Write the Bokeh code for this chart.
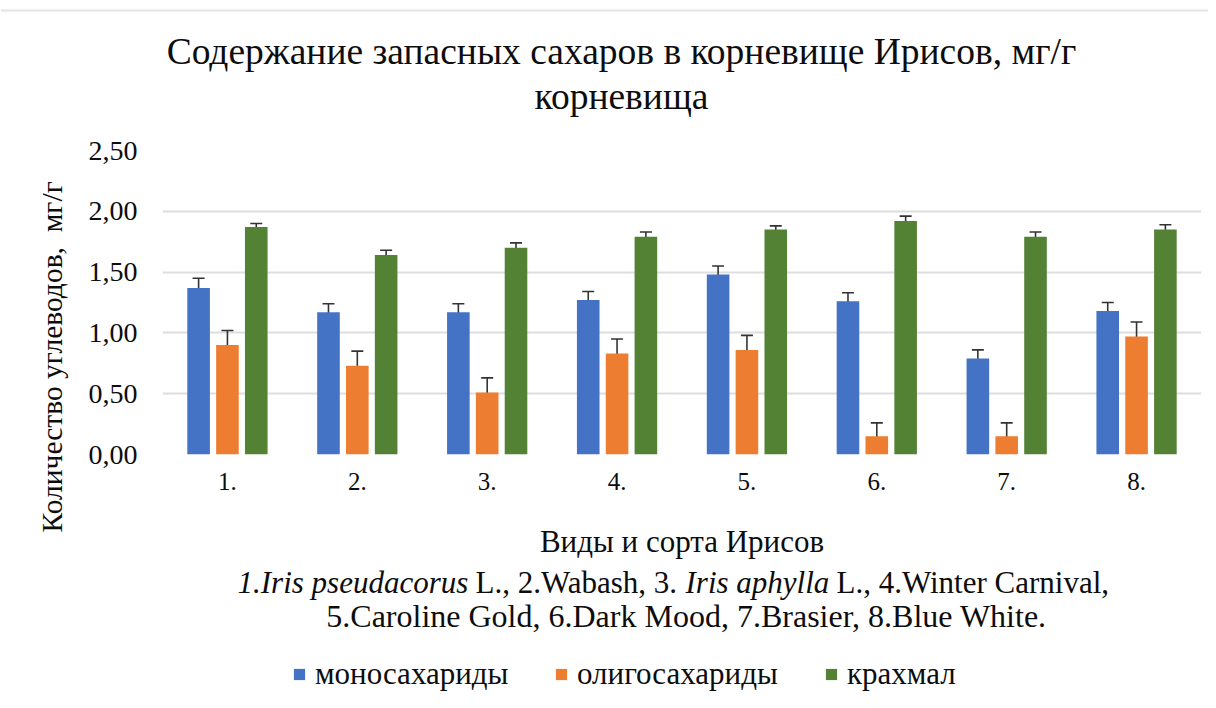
from bokeh.plotting import figure
from bokeh.layouts import column, row
from bokeh.models import (FactorRange, Range1d, FixedTicker, CustomJSTickFormatter,
                          ColumnDataSource, Whisker, TeeHead, Label, Legend, LegendItem,
                          Span, Title)
from bokeh.transform import dodge
from bokeh.embed import file_html
from bokeh.resources import INLINE

# ---- data ----
categories = ["1.", "2.", "3.", "4.", "5.", "6.", "7.", "8."]
series_names = ["моносахариды", "олигосахариды", "крахмал"]
mono = [1.37, 1.17, 1.17, 1.27, 1.48, 1.26, 0.79, 1.18]
oligo = [0.90, 0.73, 0.51, 0.83, 0.86, 0.15, 0.15, 0.97]
starch = [1.87, 1.64, 1.70, 1.79, 1.85, 1.92, 1.79, 1.85]
mono_err = [0.08, 0.07, 0.07, 0.07, 0.07, 0.07, 0.07, 0.07]
oligo_err = [0.12, 0.12, 0.12, 0.12, 0.12, 0.11, 0.11, 0.12]
starch_err = [0.03, 0.04, 0.04, 0.04, 0.03, 0.04, 0.04, 0.04]
y_ticks = [0.0, 0.5, 1.0, 1.5, 2.0, 2.5]

title_lines = ["Содержание запасных сахаров в корневище Ирисов, мг/г", "корневища"]
y_title = "Количество углеводов,\u00a0 мг/г"
x_title = "Виды и сорта Ирисов"
note_line1 = [("1.Iris pseudacorus", "italic"), ("L., 2.Wabash, 3.", "normal"),
              ("Iris aphylla", "italic"), ("L., 4.Winter Carnival,", "normal")]
note_line2 = "5.Caroline Gold, 6.Dark Mood, 7.Brasier, 8.Blue White."

colors = ["#4472C4", "#ED7D31", "#548235"]
FONT = "Liberation Serif"
TXT = "#0d0d0d"
EDGE = "#E4E4E4"

# ---- layout geometry (page px) ----
TOTAL_W = 1208
TOP_H = 120          # title strip: 0..120
MID_H = 446          # chart strip: 120..566
BOT_H = 126          # notes/legend strip: 566..692


def blank(w, h, x0, y0):
    f = figure(width=w, height=h, x_range=Range1d(x0, x0 + w), y_range=Range1d(y0 + h, y0),
               output_backend="svg", toolbar_location=None, x_axis_type=None, y_axis_type=None,
               min_border=0, min_border_left=0, min_border_right=0, min_border_top=0,
               min_border_bottom=0)
    f.outline_line_color = None
    f.grid.visible = False
    f.background_fill_color = "white"
    f.border_fill_color = "white"
    return f


def lab(f, x, y, text, size, **kw):
    f.add_layout(Label(x=x, y=y, text=text, text_font=FONT, text_font_size=size,
                       text_color=TXT, text_baseline="middle",
                       text_align=kw.pop("align", "center"), **kw))


# ---- title strip ----
top = blank(TOTAL_W, TOP_H, 0, 0)
top.add_layout(Span(location=10, dimension="width", line_color=EDGE, line_width=2))
lab(top, 621, 51, title_lines[0], "37.5px")
lab(top, 621, 96, title_lines[1], "37.5px")

# ---- main chart ----
FRAME_L, FRAME_R, FRAME_T, FRAME_B = 162, 1201, 150, 454
p = figure(x_range=FactorRange(*categories), y_range=Range1d(0, 2.5),
           width=TOTAL_W, height=MID_H, output_backend="svg", toolbar_location=None,
           min_border_left=FRAME_L, min_border_right=TOTAL_W - FRAME_R,
           min_border_top=FRAME_T - TOP_H, min_border_bottom=TOP_H + MID_H - FRAME_B)
p.outline_line_color = None
p.background_fill_color = "white"
p.border_fill_color = "white"

src = ColumnDataSource(dict(cat=categories, mono=mono, oligo=oligo, starch=starch,
                            mono_lo=[v - e for v, e in zip(mono, mono_err)],
                            mono_hi=[v + e for v, e in zip(mono, mono_err)],
                            oligo_lo=[v - e for v, e in zip(oligo, oligo_err)],
                            oligo_hi=[v + e for v, e in zip(oligo, oligo_err)],
                            starch_lo=[v - e for v, e in zip(starch, starch_err)],
                            starch_hi=[v + e for v, e in zip(starch, starch_err)]))

offsets = [-0.222, 0.0, 0.222]
keys = ["mono", "oligo", "starch"]
for k, off, c in zip(keys, offsets, colors):
    p.vbar(x=dodge("cat", off, range=p.x_range), top=k, width=0.174, source=src,
           fill_color=c, line_color=None)
    p.add_layout(Whisker(base=dodge("cat", off, range=p.x_range), lower=k + "_lo",
                         upper=k + "_hi", source=src, line_color="#333333", line_width=1.6,
                         upper_head=TeeHead(size=12, line_color="#333333", line_width=1.6),
                         lower_head=TeeHead(size=12, line_color="#333333", line_width=1.6)))

p.yaxis.ticker = FixedTicker(ticks=y_ticks)
p.yaxis.formatter = CustomJSTickFormatter(code="return tick.toFixed(2).replace('.', ',');")
p.yaxis.major_label_text_font = FONT
p.yaxis.major_label_text_font_size = "28px"
p.yaxis.major_label_text_color = TXT
p.yaxis.major_label_standoff = 25
p.yaxis.axis_line_color = None
p.yaxis.major_tick_line_color = None
p.yaxis.minor_tick_line_color = None
p.yaxis.major_tick_out = 0
p.yaxis.major_tick_in = 0

p.xaxis.major_label_text_font = FONT
p.xaxis.major_label_text_font_size = "25px"
p.xaxis.major_label_text_color = TXT
p.xaxis.major_label_standoff = 18
p.xaxis.axis_line_color = None
p.xaxis.major_tick_line_color = None
p.xaxis.major_tick_out = 0
p.xaxis.major_tick_in = 0
p.xaxis.axis_label = x_title
p.xaxis.axis_label_text_font = FONT
p.xaxis.axis_label_text_font_size = "31px"
p.xaxis.axis_label_text_font_style = "normal"
p.xaxis.axis_label_text_color = TXT
p.xaxis.axis_label_standoff = 31

p.xgrid.grid_line_color = None
p.ygrid.grid_line_color = "#DEDEDE"
p.ygrid.grid_line_width = 2

# y-axis title placed in the left side panel, starting below the frame like the original
p.add_layout(Title(text=y_title, align="left", offset=-78, vertical_align="bottom",
                   standoff=35, text_font=FONT, text_font_size="29.5px",
                   text_font_style="normal", text_color=TXT), "left")

# ---- notes / legend strip ----
Y0 = TOP_H + MID_H
bot = blank(TOTAL_W, BOT_H, 0, Y0)
starts = [237, 475, 685, 836]
for (txt, style), sx in zip(note_line1, starts):
    lab(bot, sx, 582, txt, "31px", align="left", text_font_style=style)
lab(bot, 686, 615, note_line2, "32px")

nan = float("nan")
dummy = [bot.vbar(x=[nan], top=[nan], width=1, fill_color=c, line_color=None) for c in colors]
legend_x = [292, 554, 824]
for name, r, lx in zip(series_names, dummy, legend_x):
    lg = Legend(items=[LegendItem(label=name, renderers=[r])],
                location=(lx, 0), padding=0, margin=0, border_line_color=None,
                background_fill_alpha=0, glyph_width=14, glyph_height=14, label_standoff=9,
                label_text_font=FONT, label_text_font_size="31px", label_text_color=TXT,
                label_height=30)
    bot.add_layout(lg, "center")

layout = column(top, row(p), bot)
open("out.html", "w").write(file_html(layout, INLINE))
